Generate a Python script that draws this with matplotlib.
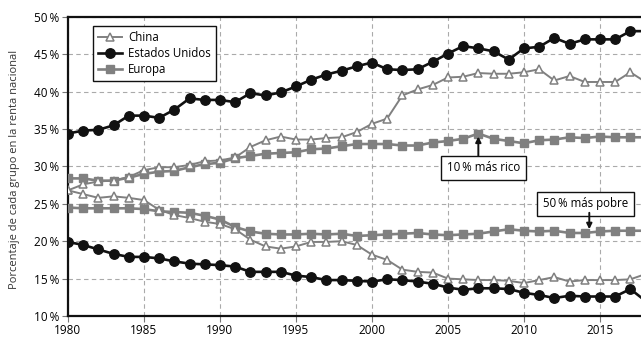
import matplotlib
matplotlib.use('Agg')
import matplotlib.pyplot as plt
import numpy as np

plt.rcParams['font.family'] = ['Open Sans', 'DejaVu Sans']

# ---------------------------------------------------------
# Data (shares of national income, %), 1980-2018
years = np.arange(1980, 2019)

us_top10 = [34.4, 34.8, 34.9, 35.5, 36.8, 36.8, 36.5, 37.6, 39.1, 38.9,
            38.9, 38.6, 39.8, 39.5, 39.9, 40.7, 41.6, 42.3, 42.8, 43.4,
            43.9, 43.0, 42.9, 43.0, 44.0, 45.1, 46.1, 45.8, 45.4, 44.3,
            45.8, 46.0, 47.2, 46.4, 47.0, 47.0, 47.0, 48.1, 48.1]
us_bottom50 = [19.9, 19.5, 18.9, 18.3, 17.9, 17.9, 17.7, 17.3, 17.0, 16.9,
               16.8, 16.6, 15.9, 15.9, 15.9, 15.4, 15.2, 14.8, 14.8, 14.7,
               14.6, 14.9, 14.8, 14.6, 14.3, 13.8, 13.5, 13.7, 13.7, 13.6,
               13.1, 12.8, 12.4, 12.7, 12.6, 12.6, 12.6, 13.6, 12.0]
eu_top10 = [28.4, 28.4, 28.1, 28.1, 28.5, 29.0, 29.3, 29.4, 29.9, 30.3,
            30.5, 31.1, 31.4, 31.7, 31.8, 31.9, 32.3, 32.4, 32.7, 33.0,
            33.0, 33.0, 32.8, 32.8, 33.2, 33.4, 33.7, 34.4, 33.7, 33.4,
            33.1, 33.5, 33.6, 33.9, 33.8, 34.0, 33.9, 33.9, 33.9]
eu_bottom50 = [24.5, 24.4, 24.4, 24.4, 24.4, 24.3, 24.0, 23.9, 23.8, 23.4,
               22.9, 21.9, 21.3, 21.0, 20.9, 20.9, 21.0, 20.9, 21.0, 20.7,
               20.8, 20.9, 21.0, 21.1, 20.9, 20.8, 20.9, 21.0, 21.3, 21.6,
               21.4, 21.3, 21.4, 21.1, 21.1, 21.3, 21.4, 21.4, 21.4]
cn_top10 = [26.8, 27.6, 28.0, 28.1, 28.6, 29.5, 29.9, 29.9, 30.2, 30.7,
            30.8, 31.2, 32.6, 33.5, 34.0, 33.6, 33.6, 33.8, 33.9, 34.6,
            35.7, 36.4, 39.5, 40.3, 40.9, 41.9, 42.0, 42.5, 42.4, 42.4,
            42.6, 43.0, 41.5, 42.1, 41.3, 41.3, 41.3, 42.6, 41.3]
cn_bottom50 = [26.8, 26.3, 25.8, 26.0, 25.8, 25.5, 24.2, 23.5, 23.1, 22.6,
               22.3, 21.6, 20.2, 19.3, 19.0, 19.3, 19.9, 19.9, 20.0, 19.5,
               18.2, 17.5, 16.2, 15.9, 15.8, 15.0, 14.9, 14.8, 14.8, 14.7,
               14.4, 14.8, 15.2, 14.6, 14.8, 14.8, 14.8, 14.9, 15.6]

xticks = [1980, 1985, 1990, 1995, 2000, 2005, 2010, 2015]
yticks = [10, 15, 20, 25, 30, 35, 40, 45, 50]
ytick_labels = ['%d\u2009%%' % v for v in yticks]

gray = '#808080'
black = '#111111'

# ---------------------------------------------------------
fig = plt.figure(figsize=(6.41, 3.39), dpi=100)
ax = fig.add_axes([0.106, 0.068, 0.9485, 0.882])

style_cn = dict(color=gray, lw=1.4, marker='^', ms=6, mfc='white', mec=gray, mew=1.1)
style_us = dict(color=black, lw=1.9, marker='o', ms=6.8, mfc=black, mec=black)
style_eu = dict(color=gray, lw=1.9, marker='s', ms=5.6, mfc=gray, mec=gray)

ax.plot(years, eu_top10, zorder=3, **style_eu)
ax.plot(years, eu_bottom50, zorder=3, **style_eu)
ax.plot(years, cn_top10, zorder=4, label='China', **style_cn)
ax.plot(years, cn_bottom50, zorder=4, **style_cn)
ax.plot(years, us_top10, zorder=5, label='Estados Unidos', **style_us)
ax.plot(years, us_bottom50, zorder=5, **style_us)
# legend order: China, Estados Unidos, Europa
ax.plot([], [], label='Europa', **style_eu)

ax.set_xlim(1980, 2020)
ax.set_ylim(10, 50)
ax.set_xticks(xticks)
ax.set_yticks(yticks)
ax.set_yticklabels(ytick_labels)
ax.tick_params(axis='both', labelsize=8.5, length=4, width=0.8, color='#777777', pad=2)
ax.grid(True, ls=(0, (4, 3)), color='#aaaaaa', lw=0.8)
ax.set_axisbelow(True)
for s in ['left', 'bottom', 'top', 'right']:
    ax.spines[s].set_linewidth(1.6)
    ax.spines[s].set_color(black)

fig.text(0.023, 0.5, 'Porcentaje de cada grupo en la renta nacional',
         rotation=90, ha='center', va='center', fontsize=8, color='#333333')

leg = ax.legend(loc='upper left', bbox_to_anchor=(0.041, 0.97), fontsize=8.3,
                frameon=True, fancybox=False, edgecolor=black, framealpha=1,
                handlelength=2.1, handletextpad=0.5, borderpad=0.45,
                labelspacing=0.25, borderaxespad=0)
leg.get_frame().set_linewidth(1.0)
leg.set_zorder(10)

box = dict(boxstyle='square,pad=0.5', fc='white', ec=black, lw=1.0)
ax.text(2007.35, 29.8, '10\u2009% más rico', ha='center', va='center',
        fontsize=8.3, bbox=box, zorder=8)
ax.annotate('', xy=(2007, 34.0), xytext=(2007, 31.4),
            arrowprops=dict(arrowstyle='-|>', color=black, lw=1.4,
                            mutation_scale=8, shrinkA=0, shrinkB=0), zorder=8)
ax.text(2014.05, 25.0, '50\u2009% más pobre', ha='center', va='center',
        fontsize=8.3, bbox=box, zorder=8)
ax.annotate('', xy=(2014.3, 21.6), xytext=(2014.3, 23.8),
            arrowprops=dict(arrowstyle='-|>', color=black, lw=1.4,
                            mutation_scale=8, shrinkA=0, shrinkB=0), zorder=8)

plt.savefig('out.png', dpi=100)
